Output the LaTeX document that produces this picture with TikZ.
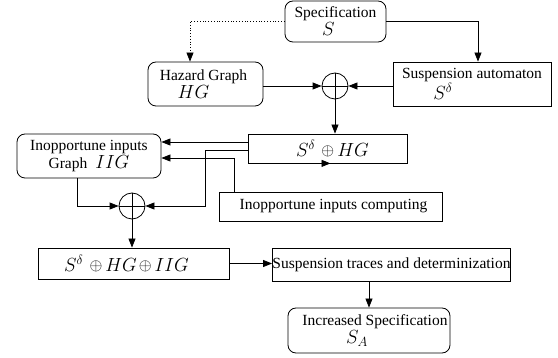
\RequirePackage{fix-cm}
\documentclass[tikz,border=0pt]{standalone}
\usepackage{fontspec}
\setmainfont{Liberation Serif}
\usetikzlibrary{arrows.meta,calc}

% math set a little larger than the surrounding text
\newcommand\lgmath[1]{{\fontsize{19}{20}\selectfont$#1$}}
\newcommand\smop{\raisebox{0.6pt}{\fontsize{16.5}{16.5}\selectfont$\oplus$}}
% shift one centred line sideways without changing its width
\newcommand\mvby[2]{\hspace*{#1}#2\hspace*{-#1}}

\tikzset{
  block/.style={draw, line width=0.8pt, align=center, inner sep=0pt},
  rblock/.style={block, rounded corners=8pt},
  summer/.style={draw, circle, line width=0.8pt, minimum size=26pt, inner sep=0pt},
  flow/.style={line width=0.8pt, -{Triangle[length=9pt,width=7pt]}},
}

\begin{document}
\begin{tikzpicture}[x=1pt, y=-1pt, font=\fontsize{15.5}{18}\selectfont]
\useasboundingbox (0,0) rectangle (558,358);

% blocks
\node[rblock, minimum width=101pt, minimum height=41pt] (spec) at (335.5,21.5)
  {Specification\\\mvby{-7pt}{\lgmath{S}}};
\node[rblock, minimum width=115pt, minimum height=44pt] (hazard) at (205.5,84)
  {\mvby{-2pt}{Hazard Graph}\\\mvby{-12pt}{\lgmath{HG}}};
\node[block, minimum width=158pt, minimum height=44pt] (susp) at (472,84)
  {Suspension automaton\\\mvby{-29pt}{\lgmath{S^\delta}}};
\node[summer] (op1) at (335,86) {};
\node[block, minimum width=159pt, minimum height=29pt] (shg) at (327.5,148.5)
  {\mvby{5pt}{\lgmath{S^\delta}\hspace{6pt}\smop\hspace{3pt}\lgmath{HG}}};
\node[rblock, minimum width=144pt, minimum height=44pt] (iig) at (89,156)
  {Inopportune inputs\\Graph\hspace{8pt}\lgmath{IIG}};
\node[block, minimum width=223pt, minimum height=29pt] (iic) at (330.5,206.5)
  {\mvby{3pt}{Inopportune inputs computing}};
\node[summer] (op2) at (132,206) {};
\node[block, minimum width=191pt, minimum height=31pt] (shgiig) at (133.5,263.5)
  {\mvby{-7pt}{\lgmath{S^\delta}\hspace{6pt}\smop\hspace{3pt}\lgmath{HG}\hspace{2pt}\smop\hspace{3pt}\lgmath{IIG}}};
\node[block, minimum width=237pt, minimum height=33pt] (traces) at (391.5,264.5)
  {Suspension traces and determinization};
\node[rblock, minimum width=162pt, minimum height=45pt] (incr) at (369,330.5)
  {\mvby{6pt}{Increased Specification}\\\mvby{-12pt}{\lgmath{S_A}}};

% crosses inside the summing circles
\foreach \c in {op1,op2}
  \draw[line width=0.8pt] (\c.north) -- (\c.south) (\c.west) -- (\c.east);

% bend points of the feedback lines
\coordinate (jA) at (205,206);
\coordinate (jB) at (234,158);

% connectors
\draw[flow] (spec.east) -| ([xshift=6pt]susp.north);
\draw[flow, dotted] (spec.west) -| ([xshift=-15.5pt]hazard.north);
\draw[flow] (hazard.east |- op1) -- (op1.west);
\draw[flow] (susp.west |- op1) -- (op1.east);
\draw[flow] (op1.south) -- (op1.south |- shg.north);
\draw[flow] (shg.south) -- (shg.south -| iic.north);
\draw[flow] ([yshift=6.5pt]shg.west) -- ([yshift=6.5pt]shg.west -| iig.east);
\draw[flow] ([yshift=-1.5pt]shg.west) -| (jA) -- (op2.east);
\draw[flow] (iic.north -| jB) -- (jB) -- (jB -| iig.east);
\draw[flow] ([xshift=-12pt]iig.south) |- (op2.west);
\draw[flow] (op2.south) -- (op2.south |- shgiig.north);
\draw[flow] (shgiig.east) -- (shgiig.east -| traces.west);
\draw[flow] (traces.south -| incr.north) -- (incr.north);
\end{tikzpicture}
\end{document}
